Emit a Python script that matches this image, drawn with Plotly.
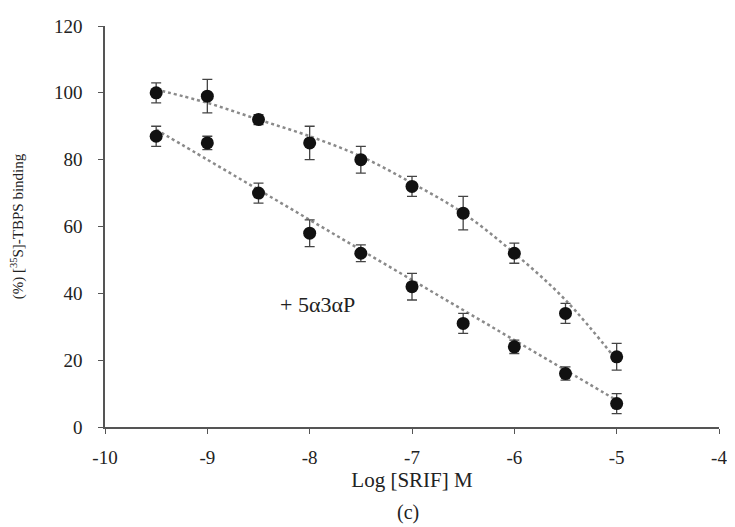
import plotly.graph_objects as go

log_srif = [-9.5, -9.0, -8.5, -8.0, -7.5, -7.0, -6.5, -6.0, -5.5, -5.0]

control_binding = [100, 99, 92, 85, 80, 72, 64, 52, 34, 21]
control_err = [3, 5, 1.5, 5, 4, 3, 5, 3, 3, 4]
control_fit = [101, 97, 92, 87, 81, 73, 64, 52, 38, 20]

p5a3a_binding = [87, 85, 70, 58, 52, 42, 31, 24, 16, 7]
p5a3a_err = [3, 2, 3, 4, 2.5, 4, 3, 2, 2, 3]
p5a3a_fit = [89, 80, 71, 62, 53, 44, 35, 26, 17, 8]

x_ticks = [-10, -9, -8, -7, -6, -5, -4]
y_ticks = [0, 20, 40, 60, 80, 100, 120]

FONT = "Times New Roman, Liberation Serif, serif"
fig = go.Figure()

for fit in (control_fit, p5a3a_fit):
    fig.add_trace(go.Scatter(
        x=log_srif, y=fit, mode="lines",
        line=dict(color="#8a8a8a", width=2.5, dash="dot", shape="spline"),
        hoverinfo="skip", showlegend=False))

for ys, err in ((control_binding, control_err), (p5a3a_binding, p5a3a_err)):
    fig.add_trace(go.Scatter(
        x=log_srif, y=ys, mode="markers",
        marker=dict(color="#111111", size=13),
        error_y=dict(type="data", array=err, visible=True,
                     color="#444444", thickness=1.3, width=5),
        showlegend=False))

fig.add_annotation(x=-7.92, y=36.7, text="+ 5\u03b13\u03b1P", showarrow=False,
                   font=dict(family=FONT, size=22, color="#222222"))
fig.add_annotation(x=0.494, xref="paper", y=-0.212, yref="paper", yanchor="middle",
                   text="(c)", showarrow=False,
                   font=dict(family=FONT, size=20, color="#222222"))

fig.update_layout(
    width=727, height=519,
    margin=dict(l=95, r=8, t=14, b=100),
    paper_bgcolor="white", plot_bgcolor="white",
    font=dict(family=FONT, color="#222222"),
    xaxis=dict(range=[-10, -4], tickvals=x_ticks, ticktext=[str(v) for v in x_ticks],
               showgrid=False, zeroline=False, showline=True, linecolor="#555555",
               linewidth=1.5, ticks="outside", ticklen=5, tickcolor="#555555",
               tickfont=dict(size=19), ticklabelstandoff=7, ticklabeloverflow="allow",
               title=dict(text="Log [SRIF] M", font=dict(size=21), standoff=3)),
    yaxis=dict(range=[0, 120], tickvals=y_ticks,
               showgrid=False, zeroline=False, showline=True, linecolor="#555555",
               linewidth=1.5, ticks="outside", ticklen=5, tickcolor="#555555",
               tickfont=dict(size=19), ticklabelstandoff=12,
               title=dict(text="(%) [<sup>35</sup>S]-TBPS binding", font=dict(size=15),
                          standoff=27)),
)

fig.write_html("out.html")
